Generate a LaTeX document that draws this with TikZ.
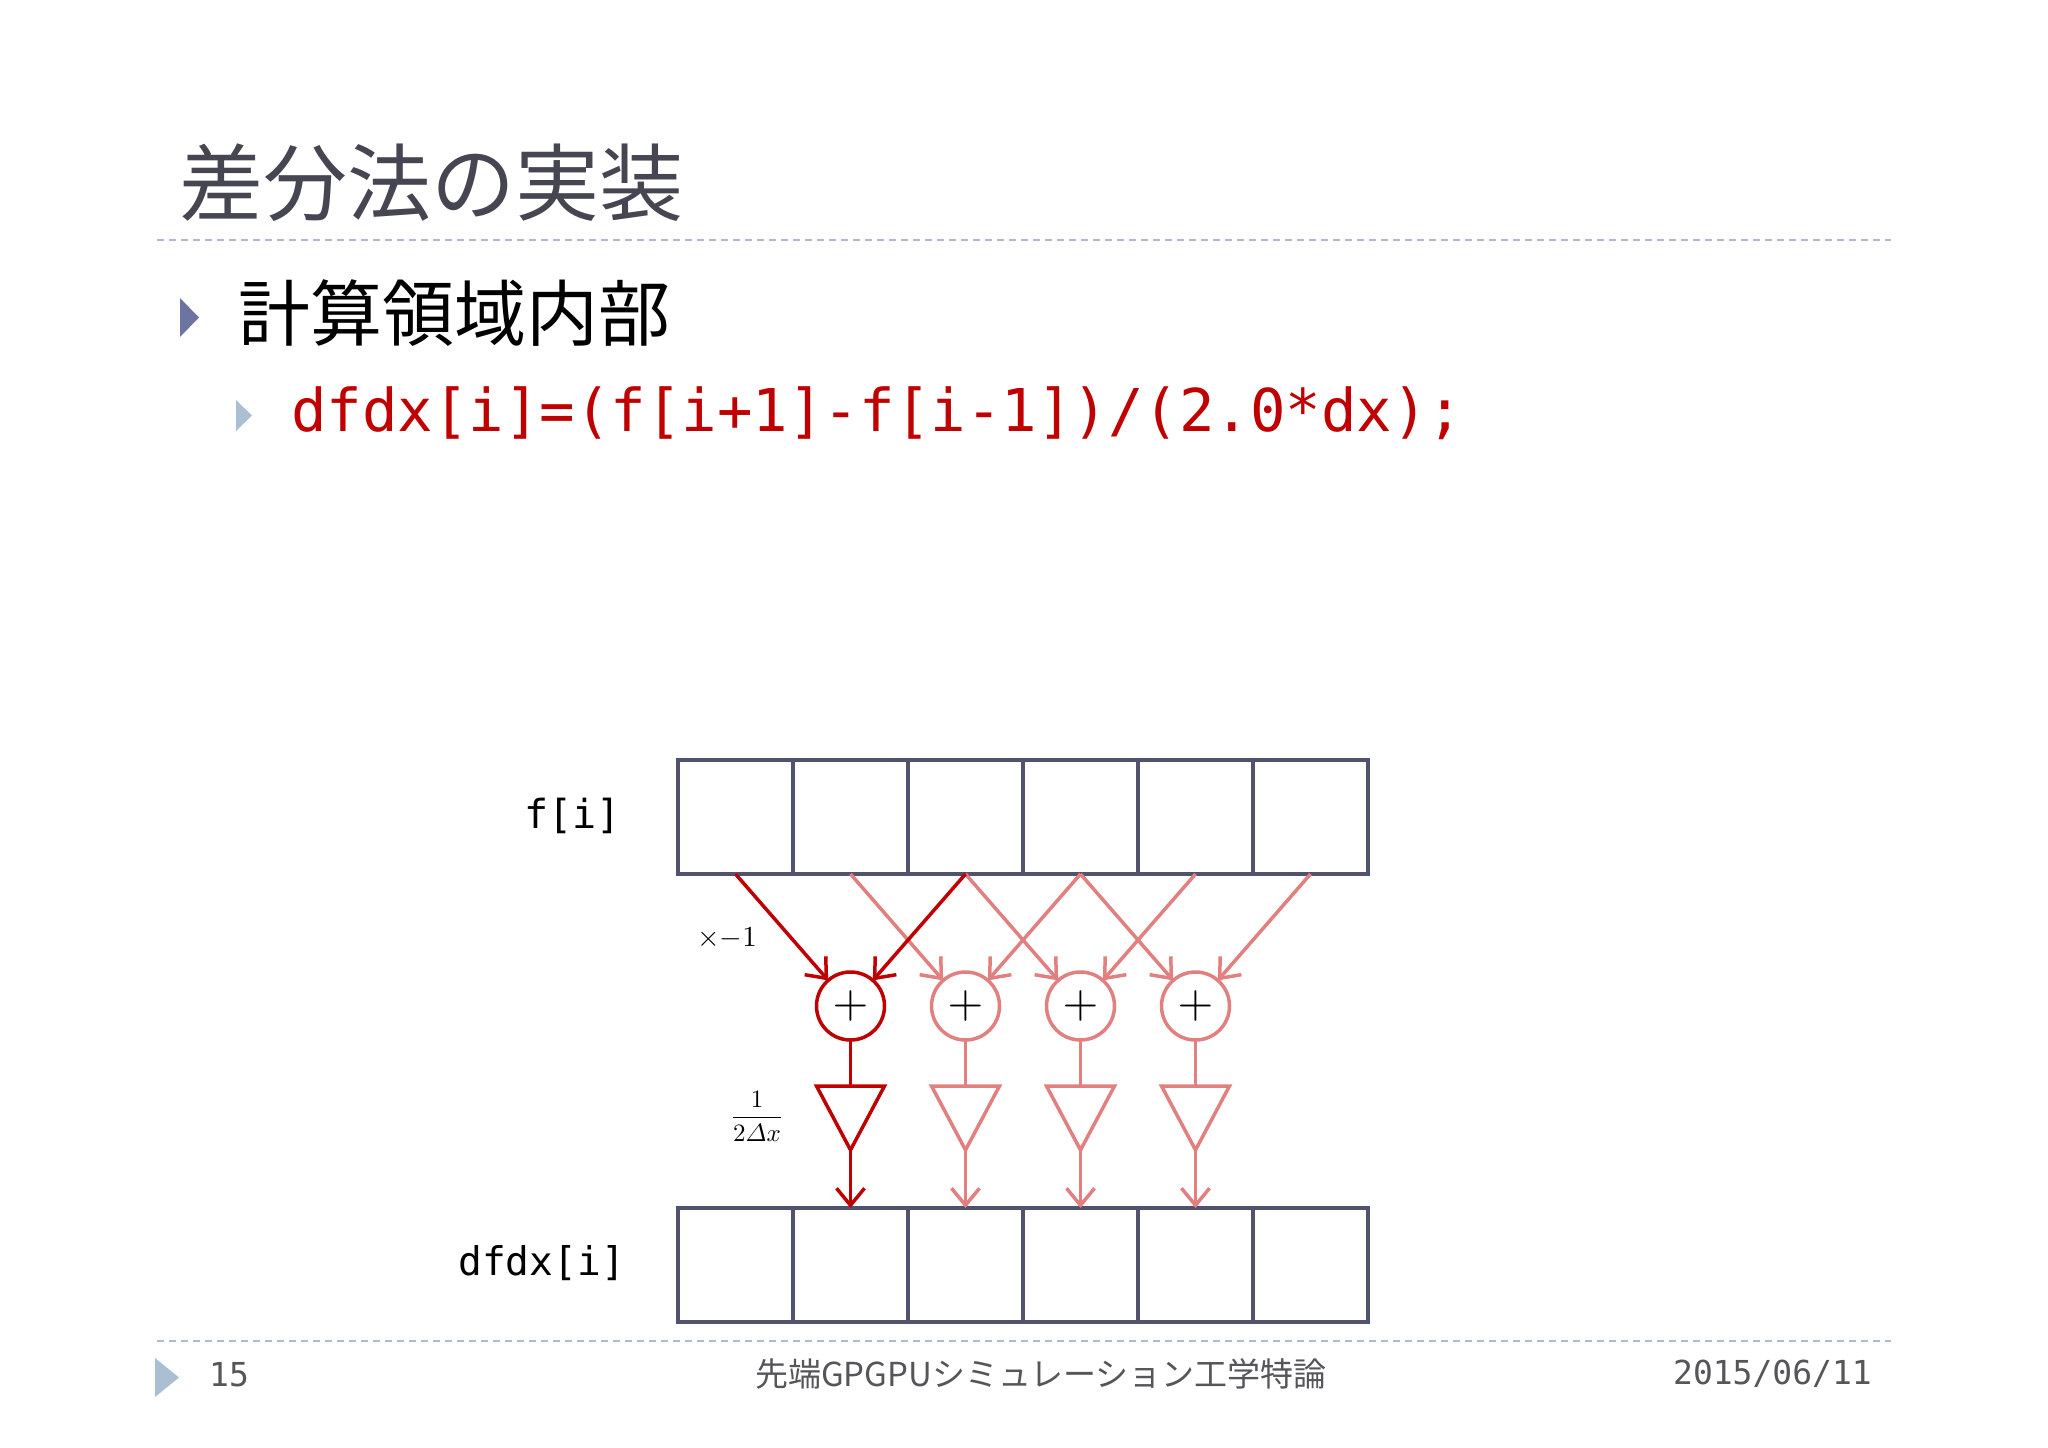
\documentclass[tikz,border=0pt]{standalone}
\usepackage{amsmath}
\usepackage{fontspec}
\setmonofont{DejaVu Sans Mono}
\newfontfamily\jpfont{Noto Sans CJK JP}
\usetikzlibrary{arrows.meta}
\definecolor{dred}{RGB}{192,0,0}
\definecolor{lred}{RGB}{226,128,128}
\definecolor{arrline}{RGB}{80,82,110}
\definecolor{titlegray}{RGB}{70,70,82}
\definecolor{footgray}{RGB}{85,85,90}
\definecolor{sepblue}{RGB}{168,188,206}
\definecolor{bulletA}{RGB}{108,116,160}
\definecolor{bulletB}{RGB}{170,192,210}

\begin{document}
\begin{tikzpicture}[x=1pt,y=-1pt,
    cell/.style={draw=arrline,line width=4pt,minimum width=115pt,minimum height=114pt,inner sep=0pt,outer sep=0pt},
    adder/.style={circle,draw=#1,line width=3.5pt,fill=white,minimum size=68pt,inner sep=0pt,outer sep=0pt},
    flow/.style={draw=#1,line width=3.5pt,-{Straight Barb[length=17pt,width=28pt,line width=3.5pt]}},
    wire/.style={draw=#1,line width=3.5pt},
    amp/.style={draw=#1,line width=3.5pt,line join=miter},
    sepline/.style={draw=sepblue,line width=2pt,dash pattern=on 7pt off 5pt},
    txt/.style={inner sep=0pt}]
    \fill[white] (0,0) rectangle (2048,1448);
    \useasboundingbox (0,0) rectangle (2048,1448);

    % slide header
    \node[txt,anchor=west] (title) at (179,183) {\jpfont\fontsize{84}{84}\selectfont\color{titlegray}差分法の実装};
    \draw[sepline] (157,240) -- (1891,240);
    \fill[bulletA] (180,298) -- (199,317.5) -- (180,337) -- cycle;
    \node[txt,anchor=west] (head) at (238,313) {\jpfont\fontsize{72}{72}\selectfont 計算領域内部};
    \fill[bulletB] (236,400) -- (252,415.5) -- (236,431) -- cycle;
    \node[txt,anchor=west] (code) at (291,413) {\ttfamily\fontsize{59}{59}\selectfont\color{dred}dfdx[i]=(f[i+1]-f[i-1])/(2.0*dx);};

    % arrays
    \foreach \i in {0,...,5} {
        \node[cell] (f\i) at (735.5+115*\i,817) {};
        \node[cell] (d\i) at (735.5+115*\i,1265) {};
    }
    \node[txt,anchor=east] (flabel) at (621,816) {\ttfamily\fontsize{40}{40}\selectfont f[i]};
    \node[txt,anchor=east] (dlabel) at (625,1263) {\ttfamily\fontsize{39.5}{40}\selectfont dfdx[i]};

    % adders and scalers
    \node[adder=dred] (s1) at (850.5,1006) {\scalebox{4.6}{$+$}};
    \foreach \i in {2,3,4}
        \node[adder=lred] (s\i) at (735.5+115*\i,1006) {\scalebox{4.6}{$+$}};
    \foreach \i in {1,...,4} {
        \coordinate (g\i) at (735.5+115*\i,1086);
        \coordinate (h\i) at (735.5+115*\i,1150);
    }
    \foreach \i [evaluate=\i as \l using int(\i-1), evaluate=\i as \r using int(\i+1)] in {2,3,4} {
        \draw[flow=lred] (f\l.south) -- (s\i);
        \draw[flow=lred] (f\r.south) -- (s\i);
        \draw[wire=lred] (s\i) -- (g\i);
        \draw[amp=lred] ([xshift=-34pt]g\i) -- ([xshift=34pt]g\i) -- (h\i) -- cycle;
        \draw[flow=lred] (h\i) -- (d\i.north);
    }
    \draw[flow=dred] (f0.south) -- (s1);
    \draw[flow=dred] (f2.south) -- (s1);
    \draw[wire=dred] (s1) -- (g1);
    \draw[amp=dred] ([xshift=-34pt]g1) -- ([xshift=34pt]g1) -- (h1) -- cycle;
    \draw[flow=dred] (h1) -- (d1.north);
    \node[txt] (neg) at (727,938) {\scalebox{2.9}{$\times{-}1$}};
    \node[txt] (scale) at (757,1116) {\scalebox{2.5}{$\dfrac{1}{2\varDelta x}$}};

    % footer
    \draw[sepline] (157,1341) -- (1891,1341);
    \fill[bulletB] (155,1358) -- (179,1377.5) -- (155,1397) -- cycle;
    \node[txt,anchor=west] (page) at (209,1375) {\ttfamily\fontsize{33}{33}\selectfont\color{footgray}15};
    \node[txt] (course) at (1041,1374) {\jpfont\fontsize{33}{33}\selectfont\color{footgray}先端GPGPUシミュレーション工学特論};
    \node[txt,anchor=east] (date) at (1872,1374) {\ttfamily\fontsize{33}{33}\selectfont\color{footgray}2015/06/11};
\end{tikzpicture}
\end{document}
